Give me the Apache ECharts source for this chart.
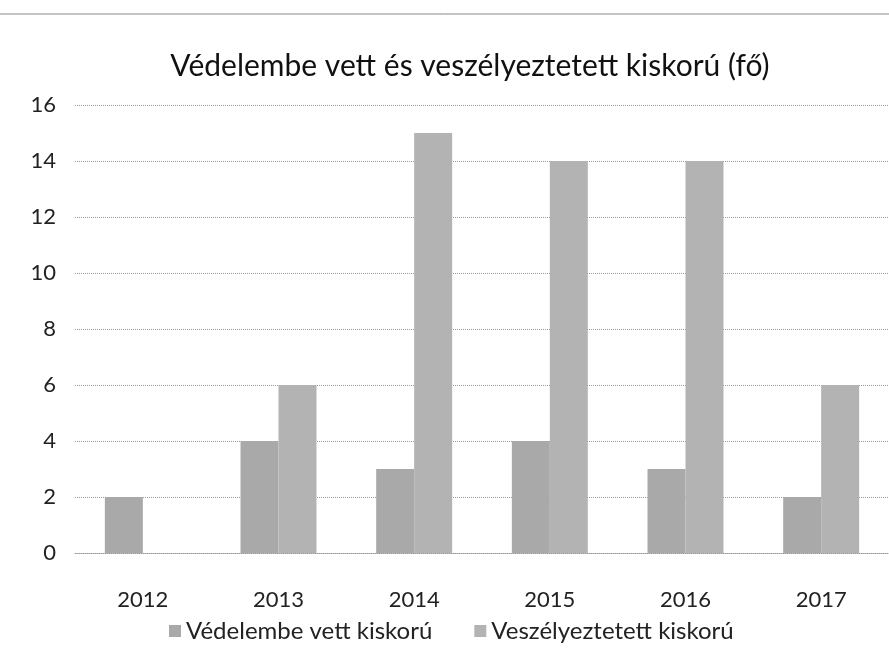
<!DOCTYPE html>
<html>
<head>
<meta charset="utf-8">
<script src="https://cdn.jsdelivr.net/npm/echarts@6/dist/echarts.min.js"></script>
<style>html,body{margin:0;padding:0;background:#fff}#c{width:889px;height:657px}</style>
</head>
<body>
<div id="c"></div>
<script>
const categories = ['2012', '2013', '2014', '2015', '2016', '2017'];
const seriesNames = ['Védelembe vett kiskorú', 'Veszélyeztetett kiskorú'];
const vedelembe = [2, 4, 3, 4, 3, 2];
const veszelyeztetett = [0, 6, 15, 14, 14, 6];
const titleText = 'Védelembe vett és veszélyeztetett kiskorú (fő)';

const font = 'Lato, "Open Sans", sans-serif';
const chart = echarts.init(document.getElementById('c'), null, {renderer: 'canvas'});
chart.setOption({
  animation: false,
  backgroundColor: '#fff',
  title: {
    text: titleText,
    left: 465, top: 46, textAlign: 'center',
    textStyle: {fontFamily: font, fontSize: 30, fontWeight: 'normal', color: '#111'}
  },
  graphic: [{
    type: 'line', shape: {x1: 0, y1: 14, x2: 889, y2: 14},
    style: {stroke: '#888', lineWidth: 1}
  }],
  legend: {
    data: seriesNames,
    top: 614, left: 164,
    itemWidth: 12, itemHeight: 12, itemGap: 42,
    icon: 'rect',
    textStyle: {fontFamily: font, fontSize: 24, color: '#222'}
  },
  grid: {left: 75, top: 105, width: 818, height: 448, containLabel: false},
  xAxis: {
    type: 'category', data: categories,
    axisLine: {show: true, lineStyle: {color: '#999', type: 'dotted'}},
    axisTick: {show: false},
    axisLabel: {fontFamily: font, fontSize: 22, color: '#222', margin: 36}
  },
  yAxis: {
    type: 'value', min: 0, max: 16, interval: 2,
    axisLine: {show: false}, axisTick: {show: false},
    axisLabel: {fontFamily: font, fontSize: 22, color: '#222', margin: 19},
    splitLine: {lineStyle: {color: '#999', type: 'dotted'}}
  },
  series: [
    {name: seriesNames[0], type: 'bar', data: vedelembe, barGap: '0%', barCategoryGap: '44%',
     itemStyle: {color: '#a9a9a9'}},
    {name: seriesNames[1], type: 'bar', data: veszelyeztetett,
     itemStyle: {color: '#b3b3b3'}}
  ]
});
</script>
</body>
</html>
